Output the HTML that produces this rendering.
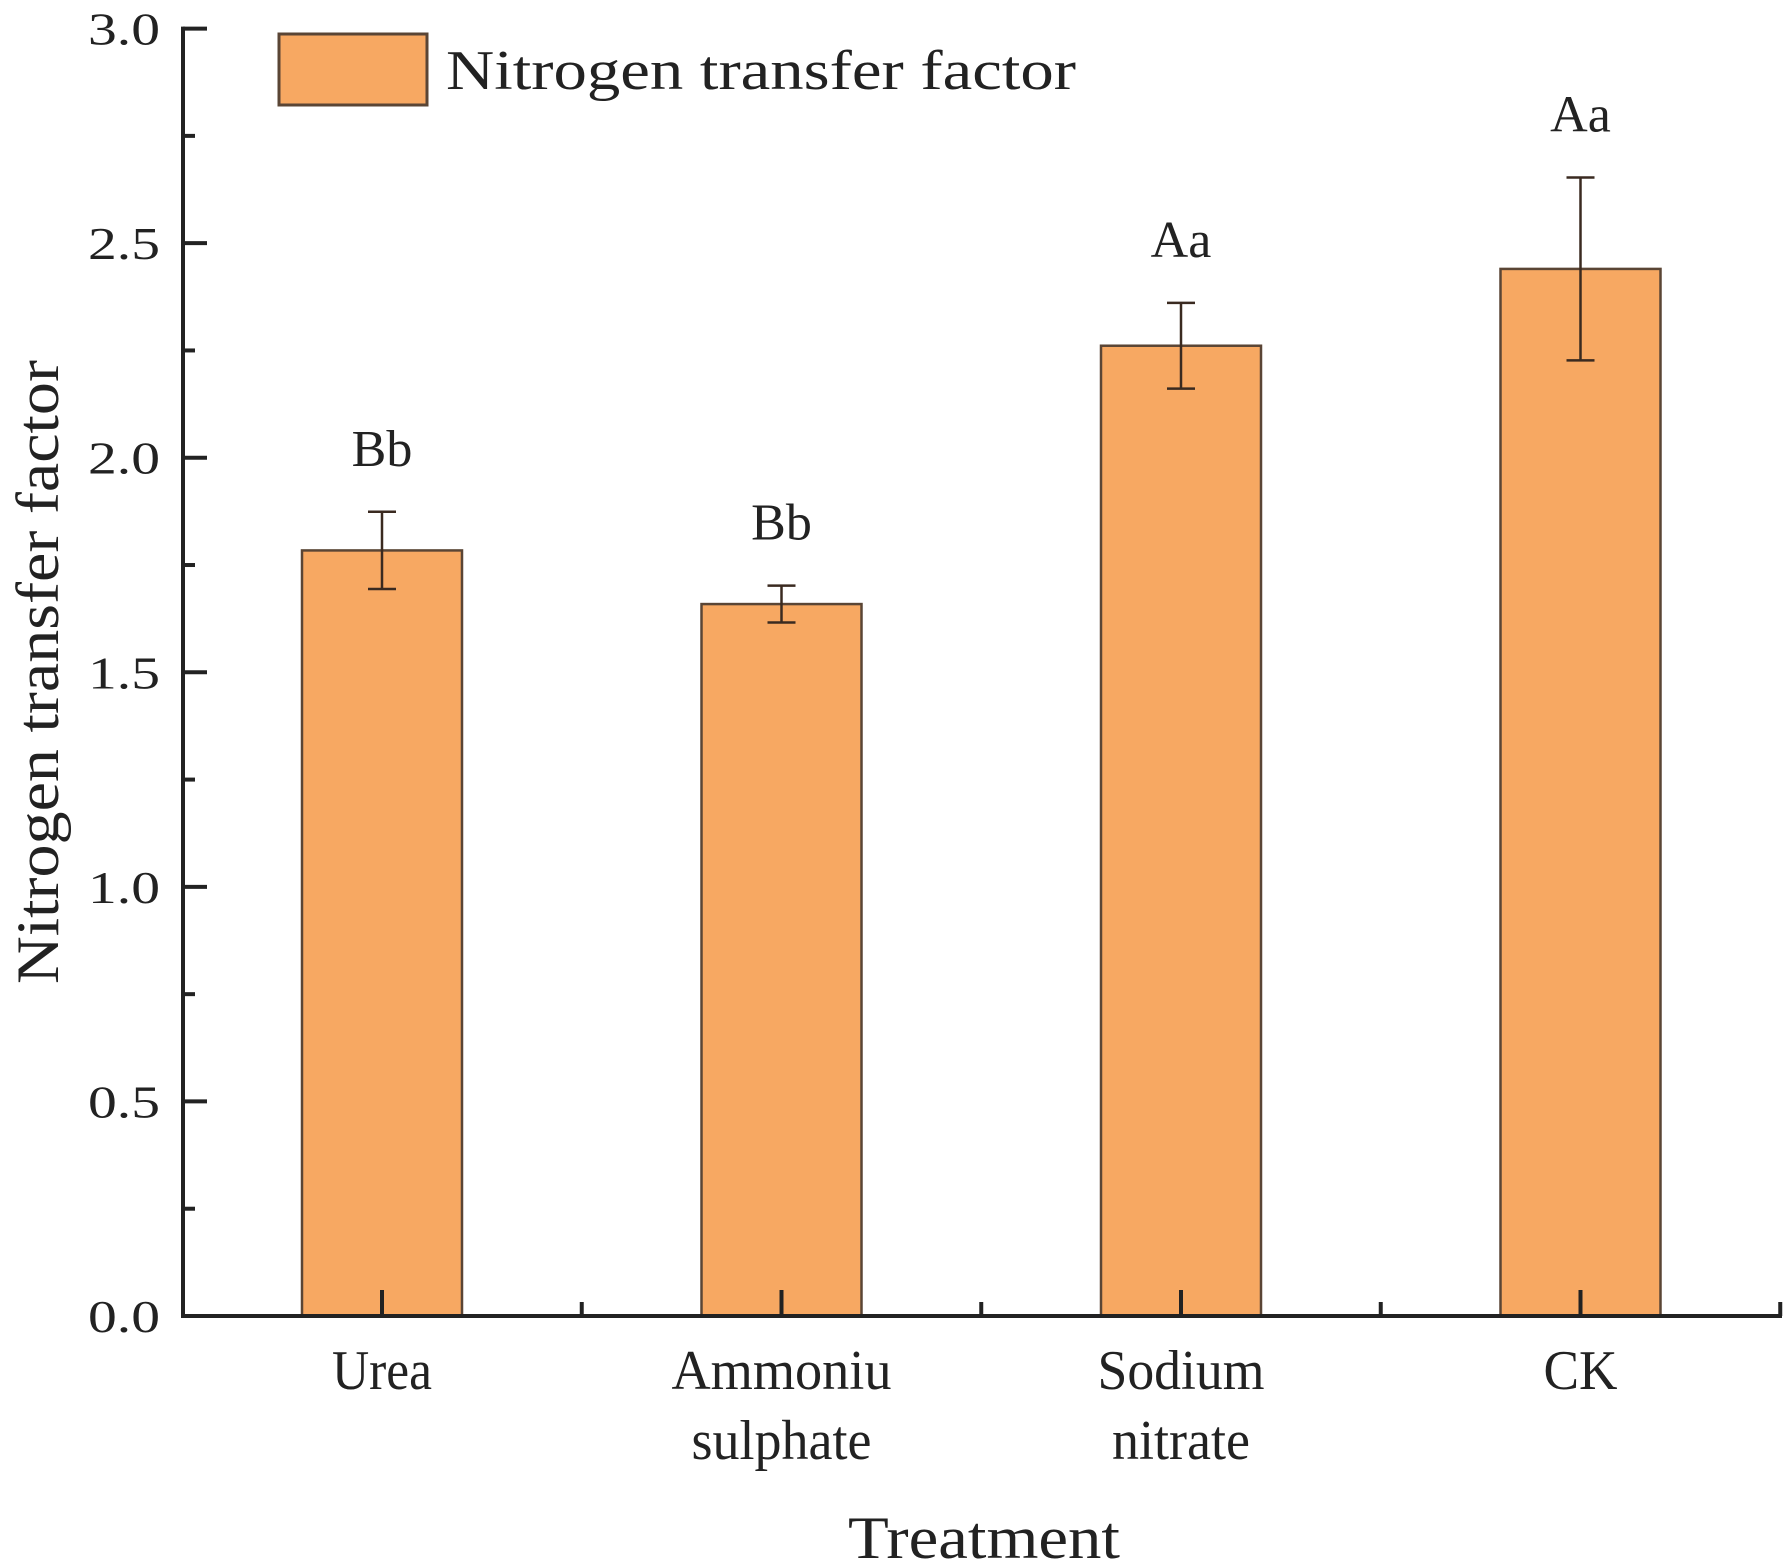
<!DOCTYPE html>
<html><head><meta charset="utf-8"><style>
html,body{margin:0;padding:0;background:#fff;}
svg{display:block;font-family:"Liberation Serif",serif;}
</style></head><body>
<svg id="chart" width="1791" height="1568" viewBox="0 0 1791 1568" xmlns="http://www.w3.org/2000/svg"></svg>
<script>
const categories = [["Urea"],["Ammoniu","sulphate"],["Sodium","nitrate"],["CK"]];
const values = [1.784, 1.659, 2.261, 2.44];
const errors = [0.09, 0.043, 0.10, 0.213];
const letters = ["Bb","Bb","Aa","Aa"];
const yTicks = [0, 0.5, 1.0, 1.5, 2.0, 2.5, 3.0];
const yTickLabels = ["0.0","0.5","1.0","1.5","2.0","2.5","3.0"];
const labelWidths = {"Urea":100,"Ammoniu":220,"sulphate":180,"Sodium":167,"nitrate":138,"CK":74};

const NS = "http://www.w3.org/2000/svg";
const svg = document.getElementById('chart');
const X0 = 183, X1 = 1782, Y0 = 1316, Y1 = 28.6, YMAX = 3;
const step = 399.5, firstC = 382, barW = 160;
function y(v){ return Y0 - (v / YMAX) * (Y0 - Y1); }
function xc(i){ return firstC + i * step; }
function mk(tag, attrs, parent){
  const e = document.createElementNS(NS, tag);
  for (const k in attrs) e.setAttribute(k, attrs[k]);
  (parent || svg).appendChild(e);
  return e;
}

const lg = mk('g', {});


const lb = mk('rect', {x:279, y:34, width:148, height:71, fill:'#F7A862', stroke:'#5a4535', 'stroke-width':3}, lg);


const lt = mk('text', {x:446, y:89, 'font-size':56, fill:'#222', textLength:630, lengthAdjust:'spacingAndGlyphs'}, lg);
lt.textContent = 'Nitrogen transfer factor';



values.forEach((v, i) => {
  const c = xc(i);
  const r = mk('rect', {x:c - barW/2, y:y(v), width:barW, height:Y0 - y(v), fill:'#F7A862', stroke:'#5a4535', 'stroke-width':2.5});
  
  
  const eg = mk('g', {stroke:'#3a2a20', 'stroke-width':2.5});
  
  
  const t = y(v + errors[i]), b = y(v - errors[i]);
  mk('line', {x1:c, x2:c, y1:t, y2:b}, eg);
  mk('line', {x1:c - 14, x2:c + 14, y1:t, y2:t}, eg);
  mk('line', {x1:c - 14, x2:c + 14, y1:b, y2:b}, eg);
  const lab = mk('text', {x:c, y:t - 46, 'font-size':52, 'text-anchor':'middle', fill:'#222'});
  lab.textContent = letters[i];
  
  
});

const ax = mk('g', {stroke:'#222', 'stroke-width':4, fill:'none'});


mk('line', {x1:X0, x2:X0, y1:Y1 - 2, y2:Y0 + 2}, ax);
mk('line', {x1:X0 - 2, x2:X1, y1:Y0, y2:Y0}, ax);
yTicks.forEach((v, i) => {
  mk('line', {x1:X0, x2:X0 + 24, y1:y(v), y2:y(v)}, ax);
  if (i < yTicks.length - 1) {
    const m = (v + yTicks[i+1]) / 2;
    mk('line', {x1:X0, x2:X0 + 12, y1:y(m), y2:y(m)}, ax);
  }
  const t = mk('text', {x:160, y:y(v) + 16, 'font-size':46, 'text-anchor':'end', fill:'#222', textLength:72, lengthAdjust:'spacingAndGlyphs'});
  t.textContent = yTickLabels[i];
  
  
});
categories.forEach((lines, i) => {
  const c = xc(i);
  mk('line', {x1:c, x2:c, y1:Y0, y2:Y0 - 26}, ax);
  mk('line', {x1:c + step/2, x2:c + step/2, y1:Y0, y2:Y0 - 14}, ax);
  lines.forEach((s, j) => {
    const t = mk('text', {x:c, y:1389 + j * 70, 'font-size':56, 'text-anchor':'middle', fill:'#222', textLength:labelWidths[s], lengthAdjust:'spacingAndGlyphs'});
    t.textContent = s;
    
    
  });
});

const xt = mk('text', {x:984, y:1558, 'font-size':60, 'text-anchor':'middle', fill:'#222', textLength:272, lengthAdjust:'spacingAndGlyphs'});
xt.textContent = 'Treatment';


const yt = mk('text', {x:0, y:0, 'font-size':60, 'text-anchor':'middle', fill:'#222', transform:'translate(58,672) rotate(-90)', textLength:624, lengthAdjust:'spacingAndGlyphs'});
yt.textContent = 'Nitrogen transfer factor';


</script>
</body></html>
